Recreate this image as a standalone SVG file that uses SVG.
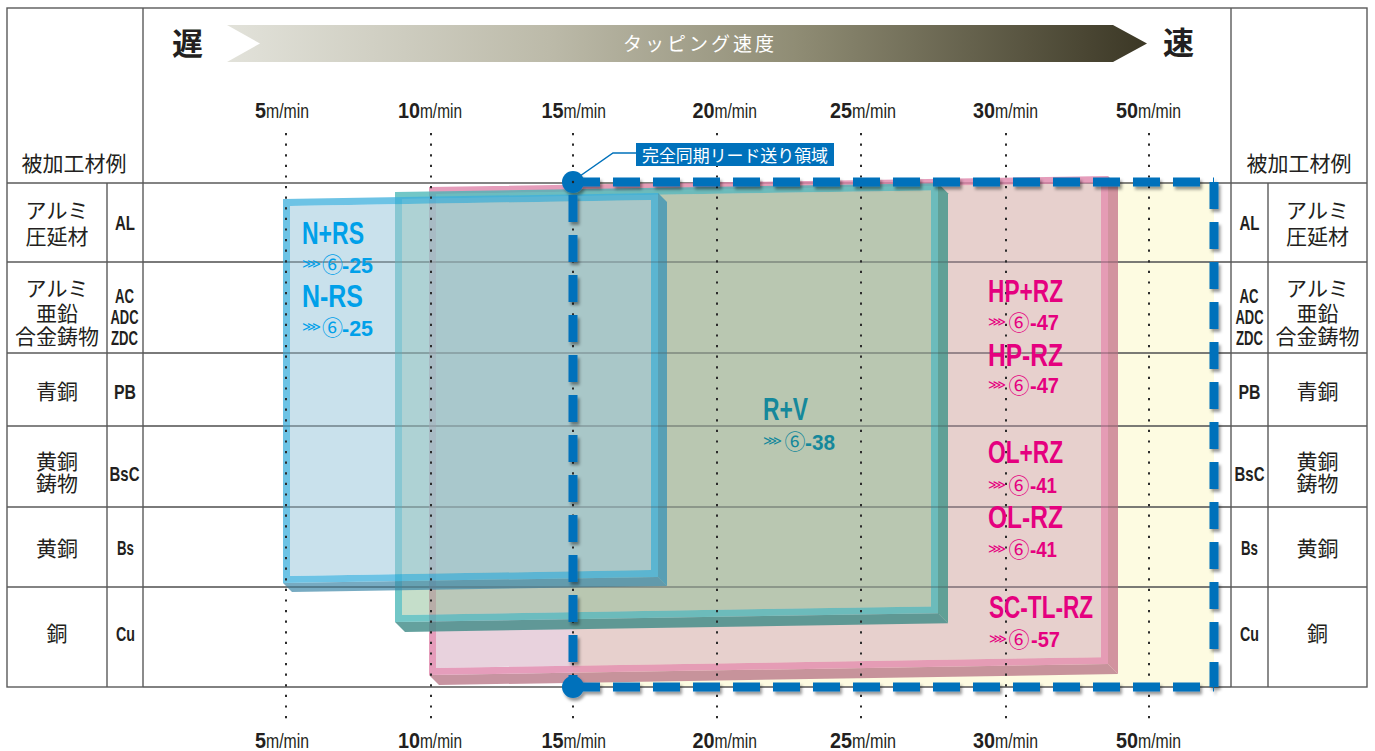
<svg xmlns="http://www.w3.org/2000/svg" width="1375" height="751" viewBox="0 0 1375 751">
<style>
.ln{stroke:#5a5a5a;stroke-width:1.4;fill:none}
.lo{stroke:#5a5a5a;stroke-width:1.2;stroke-opacity:0.4;fill:none}
.dot{stroke:#2b2b2b;stroke-width:2;stroke-dasharray:2.2 8.4;fill:none}
.dash{stroke:#0071bb;stroke-width:9;stroke-dasharray:27 13;fill:none}
.jp{font-family:"Noto Sans CJK JP",sans-serif;font-size:21px;fill:#231f20;text-anchor:middle}
.cd{font-family:"Liberation Sans",Arial,sans-serif;font-weight:bold;font-size:21px;fill:#231f20}
.sd{font-family:"Liberation Sans",Arial,sans-serif;font-weight:bold;font-size:22px;fill:#231f20}
.su{font-family:"Liberation Sans",Arial,sans-serif;font-size:21px;fill:#231f20}
.nm{font-family:"Liberation Sans",Arial,sans-serif;font-weight:bold;font-size:31px}
.num{font-family:"Liberation Sans",Arial,sans-serif;font-weight:bold;font-size:22px}
.chev{font-family:"DejaVu Sans",sans-serif;font-size:13px}
.circ{font-family:"Noto Sans CJK JP",sans-serif;font-size:21px;text-anchor:middle}
.cy{fill:#00a0e9}.tl{fill:#15889b}.mg{fill:#e5007f}
</style>
<defs>
<linearGradient id="gr" gradientUnits="userSpaceOnUse" x1="227" y1="0" x2="1147" y2="0">
<stop offset="0" stop-color="#e2e2da"/>
<stop offset="0.35" stop-color="#bcbaa9"/>
<stop offset="0.62" stop-color="#8f8c74"/>
<stop offset="1" stop-color="#3b3725"/>
</linearGradient>
<filter id="sh" x="-5%" y="-5%" width="112%" height="112%">
<feDropShadow dx="2" dy="3" stdDeviation="1.8" flood-color="#000" flood-opacity="0.4"/>
</filter>
</defs>
<rect width="1375" height="751" fill="#fff"/>

<g id="speed-arrow">
<polygon points="227,25 1113,25 1147,43.5 1113,62 227,62 260,43.5" fill="url(#gr)"/>
<text x="700" y="51" font-family="'Noto Sans CJK JP',sans-serif" font-size="19" fill="#fff" text-anchor="middle" letter-spacing="3">タッピング速度</text>
<text x="187.5" y="55" font-family="'Noto Sans CJK JP',sans-serif" font-size="31" font-weight="bold" fill="#231f20" text-anchor="middle">遅</text>
<text x="1178.5" y="54" font-family="'Noto Sans CJK JP',sans-serif" font-size="31" font-weight="bold" fill="#231f20" text-anchor="middle">速</text>
</g>

<rect id="sync-area-fill" x="573" y="182" width="641" height="505" fill="#fdfbe1"/>

<g id="table">
<rect x="7" y="8" width="1360" height="679" class="ln"/>
<line x1="7" y1="183" x2="1367" y2="183" class="ln"/>
<line x1="7" y1="262" x2="1367" y2="262" class="ln"/>
<line x1="7" y1="353" x2="1367" y2="353" class="ln"/>
<line x1="7" y1="426" x2="1367" y2="426" class="ln"/>
<line x1="7" y1="507" x2="1367" y2="507" class="ln"/>
<line x1="7" y1="587" x2="1367" y2="587" class="ln"/>
<line x1="107" y1="183" x2="107" y2="687" class="ln"/>
<line x1="143" y1="8" x2="143" y2="687" class="ln"/>
<line x1="1231" y1="8" x2="1231" y2="687" class="ln"/>
<line x1="1268" y1="183" x2="1268" y2="687" class="ln"/>
</g>

<g id="node-rz">
<polygon points="429,675 1108,664.1 1118,674.1 439,685" fill="#b9798a" fill-opacity="0.8"/>
<polygon points="1108,176.1 1118,186.1 1118,674.1 1108,664.1" fill="#c7798f" fill-opacity="0.8"/>
<path d="M429,187 L1108,176.1 L1108,664.1 L429,675 Z M436,193.9 L1101,183.2 L1101,657.2 L436,668 Z" fill="#de84aa" fill-opacity="0.8" fill-rule="evenodd"/>
<polygon points="436,193.9 1101,183.2 1101,657.2 436,668" fill="#cfa1b8" fill-opacity="0.48"/>
</g>

<g id="node-rv">
<polygon points="395,622 938,613.3 948,623.3 405,632" fill="#3d8a86" fill-opacity="0.8"/>
<polygon points="938,183.3 948,193.3 948,623.3 938,613.3" fill="#3f9488" fill-opacity="0.8"/>
<path d="M395,192 L938,183.3 L938,613.3 L395,622 Z M402,198.9 L931,190.4 L931,606.4 L402,614.9 Z" fill="#43b4b4" fill-opacity="0.75" fill-rule="evenodd"/>
<polygon points="402,198.9 931,190.4 931,606.4 402,614.9" fill="#8cbe96" fill-opacity="0.5"/>
</g>

<g id="node-rs">
<polygon points="283,583 658,577 667,586 292,592" fill="#3d87a8" fill-opacity="0.7"/>
<polygon points="658,193 667,202 667,586 658,577" fill="#2f8fb5" fill-opacity="0.7"/>
<path d="M283,199 L658,193 L658,577 L283,583 Z M290,206 L651,200 L651,570 L290,576 Z" fill="#3cafdc" fill-opacity="0.75" fill-rule="evenodd"/>
<polygon points="290,206 651,200 651,570 290,576" fill="#9bc7dc" fill-opacity="0.54"/>
</g>

<g id="table-overlay">
<line x1="143" y1="262" x2="1231" y2="262" class="lo"/>
<line x1="143" y1="353" x2="1231" y2="353" class="lo"/>
<line x1="143" y1="426" x2="1231" y2="426" class="lo"/>
<line x1="143" y1="507" x2="1231" y2="507" class="lo"/>
<line x1="143" y1="587" x2="1231" y2="587" class="lo"/>
<line x1="143" y1="687" x2="1231" y2="687" class="lo"/>
</g>

<g id="grid-dots">
<line x1="286" y1="133" x2="286" y2="722" class="dot"/>
<line x1="431" y1="133" x2="431" y2="722" class="dot"/>
<line x1="573" y1="133" x2="573" y2="722" class="dot"/>
<line x1="717" y1="133" x2="717" y2="722" class="dot"/>
<line x1="861" y1="133" x2="861" y2="722" class="dot"/>
<line x1="1006" y1="133" x2="1006" y2="722" class="dot"/>
<line x1="1149" y1="133" x2="1149" y2="722" class="dot"/>
</g>

<g id="speed-labels-top">
<text class="sd" x="255" y="118" textLength="11" lengthAdjust="spacingAndGlyphs">5</text><text class="su" x="266" y="118" textLength="43" lengthAdjust="spacingAndGlyphs">m/min</text>
<text class="sd" x="398" y="118" textLength="22" lengthAdjust="spacingAndGlyphs">10</text><text class="su" x="420" y="118" textLength="42" lengthAdjust="spacingAndGlyphs">m/min</text>
<text class="sd" x="541.5" y="118" textLength="22" lengthAdjust="spacingAndGlyphs">15</text><text class="su" x="563.5" y="118" textLength="42.5" lengthAdjust="spacingAndGlyphs">m/min</text>
<text class="sd" x="692.5" y="118" textLength="22" lengthAdjust="spacingAndGlyphs">20</text><text class="su" x="714.5" y="118" textLength="42.5" lengthAdjust="spacingAndGlyphs">m/min</text>
<text class="sd" x="830" y="118" textLength="22" lengthAdjust="spacingAndGlyphs">25</text><text class="su" x="852" y="118" textLength="44" lengthAdjust="spacingAndGlyphs">m/min</text>
<text class="sd" x="973" y="118" textLength="22" lengthAdjust="spacingAndGlyphs">30</text><text class="su" x="995" y="118" textLength="43" lengthAdjust="spacingAndGlyphs">m/min</text>
<text class="sd" x="1116" y="118" textLength="22" lengthAdjust="spacingAndGlyphs">50</text><text class="su" x="1138" y="118" textLength="43" lengthAdjust="spacingAndGlyphs">m/min</text>
</g>
<g id="speed-labels-bottom">
<text class="sd" x="255" y="748" textLength="11" lengthAdjust="spacingAndGlyphs">5</text><text class="su" x="266" y="748" textLength="43" lengthAdjust="spacingAndGlyphs">m/min</text>
<text class="sd" x="398" y="748" textLength="22" lengthAdjust="spacingAndGlyphs">10</text><text class="su" x="420" y="748" textLength="42" lengthAdjust="spacingAndGlyphs">m/min</text>
<text class="sd" x="541.5" y="748" textLength="22" lengthAdjust="spacingAndGlyphs">15</text><text class="su" x="563.5" y="748" textLength="42.5" lengthAdjust="spacingAndGlyphs">m/min</text>
<text class="sd" x="692.5" y="748" textLength="22" lengthAdjust="spacingAndGlyphs">20</text><text class="su" x="714.5" y="748" textLength="42.5" lengthAdjust="spacingAndGlyphs">m/min</text>
<text class="sd" x="830" y="748" textLength="22" lengthAdjust="spacingAndGlyphs">25</text><text class="su" x="852" y="748" textLength="44" lengthAdjust="spacingAndGlyphs">m/min</text>
<text class="sd" x="973" y="748" textLength="22" lengthAdjust="spacingAndGlyphs">30</text><text class="su" x="995" y="748" textLength="43" lengthAdjust="spacingAndGlyphs">m/min</text>
<text class="sd" x="1116" y="748" textLength="22" lengthAdjust="spacingAndGlyphs">50</text><text class="su" x="1138" y="748" textLength="43" lengthAdjust="spacingAndGlyphs">m/min</text>
</g>

<g id="sync-area" filter="url(#sh)">
<line x1="573" y1="182" x2="1214" y2="182" class="dash"/>
<line x1="573" y1="687" x2="1214" y2="687" class="dash"/>
<line x1="573" y1="182" x2="573" y2="687" class="dash" stroke-dashoffset="27"/>
<line x1="1214" y1="182" x2="1214" y2="687" class="dash"/>
<circle cx="573" cy="182" r="11" fill="#0071bb"/>
<circle cx="573" cy="687" r="11" fill="#0071bb"/>
</g>
<circle cx="573" cy="182" r="1.2" fill="#222"/>

<g id="connectors">
<polyline points="580,176 613,153 636,153" fill="none" stroke="#0071bb" stroke-width="1.5"/>
</g>
<g id="callout">
<rect x="636" y="143" width="198" height="23" fill="#0071bb"/>
<text x="642" y="161.5" font-family="'Noto Sans CJK JP',sans-serif" font-size="17" fill="#fff" textLength="186" lengthAdjust="spacingAndGlyphs">完全同期リード送り領域</text>
</g>

<g id="label-rs">
<text class="nm cy" x="302" y="244" textLength="62" lengthAdjust="spacingAndGlyphs">N+RS</text>
<text class="chev cy" x="302" y="268" textLength="19" lengthAdjust="spacingAndGlyphs">⋙</text>
<text class="circ cy" x="332.5" y="272">⑥</text>
<text class="num cy" x="342" y="273" textLength="31" lengthAdjust="spacingAndGlyphs">-25</text>
<text class="nm cy" x="302" y="307" textLength="61" lengthAdjust="spacingAndGlyphs">N-RS</text>
<text class="chev cy" x="302" y="331" textLength="19" lengthAdjust="spacingAndGlyphs">⋙</text>
<text class="circ cy" x="332.5" y="335">⑥</text>
<text class="num cy" x="342" y="336" textLength="31" lengthAdjust="spacingAndGlyphs">-25</text>
</g>

<g id="label-rv">
<text class="nm tl" x="763" y="420" textLength="45" lengthAdjust="spacingAndGlyphs">R+V</text>
<text class="chev tl" x="763" y="445" textLength="19" lengthAdjust="spacingAndGlyphs">⋙</text>
<text class="circ tl" x="795" y="449">⑥</text>
<text class="num tl" x="805" y="450" textLength="30" lengthAdjust="spacingAndGlyphs">-38</text>
</g>

<g id="label-rz">
<text class="nm mg" x="988" y="302" textLength="75" lengthAdjust="spacingAndGlyphs">HP+RZ</text>
<text class="chev mg" x="988" y="326" textLength="18" lengthAdjust="spacingAndGlyphs">⋙</text>
<text class="circ mg" x="1019" y="330">⑥</text>
<text class="num mg" x="1030" y="330" textLength="29" lengthAdjust="spacingAndGlyphs">-47</text>
<text class="nm mg" x="988" y="366" textLength="75" lengthAdjust="spacingAndGlyphs">HP-RZ</text>
<text class="chev mg" x="988" y="389" textLength="18" lengthAdjust="spacingAndGlyphs">⋙</text>
<text class="circ mg" x="1019" y="393">⑥</text>
<text class="num mg" x="1030" y="393" textLength="29" lengthAdjust="spacingAndGlyphs">-47</text>
<text class="nm mg" x="988" y="463" textLength="75" lengthAdjust="spacingAndGlyphs">OL+RZ</text>
<text class="chev mg" x="988" y="489" textLength="18" lengthAdjust="spacingAndGlyphs">⋙</text>
<text class="circ mg" x="1019" y="493">⑥</text>
<text class="num mg" x="1030" y="493" textLength="27" lengthAdjust="spacingAndGlyphs">-41</text>
<text class="nm mg" x="988" y="528" textLength="75" lengthAdjust="spacingAndGlyphs">OL-RZ</text>
<text class="chev mg" x="988" y="553" textLength="18" lengthAdjust="spacingAndGlyphs">⋙</text>
<text class="circ mg" x="1019" y="557">⑥</text>
<text class="num mg" x="1030" y="557" textLength="27" lengthAdjust="spacingAndGlyphs">-41</text>
<text class="nm mg" x="989" y="618" textLength="104" lengthAdjust="spacingAndGlyphs">SC-TL-RZ</text>
<text class="chev mg" x="989" y="643" textLength="18" lengthAdjust="spacingAndGlyphs">⋙</text>
<text class="circ mg" x="1019" y="647">⑥</text>
<text class="num mg" x="1031" y="647" textLength="29" lengthAdjust="spacingAndGlyphs">-57</text>
</g>

<g id="materials-left">
<text class="jp" x="74" y="170.5">被加工材例</text>
<text class="jp" x="57" y="217.5">アルミ</text><text class="jp" x="57" y="244">圧延材</text>
<text class="cd" x="115" y="230" textLength="20" lengthAdjust="spacingAndGlyphs">AL</text>
<text class="jp" x="57" y="295.5">アルミ</text><text class="jp" x="57" y="320.5">亜鉛</text><text class="jp" x="57" y="344">合金鋳物</text>
<text class="cd" x="115" y="303" textLength="19" lengthAdjust="spacingAndGlyphs">AC</text>
<text class="cd" x="110.5" y="324" textLength="28" lengthAdjust="spacingAndGlyphs">ADC</text>
<text class="cd" x="111" y="345" textLength="27" lengthAdjust="spacingAndGlyphs">ZDC</text>
<text class="jp" x="57" y="399">青銅</text>
<text class="cd" x="114" y="399" textLength="22" lengthAdjust="spacingAndGlyphs">PB</text>
<text class="jp" x="57" y="469">黄銅</text><text class="jp" x="57" y="490.5">鋳物</text>
<text class="cd" x="109.5" y="481" textLength="30" lengthAdjust="spacingAndGlyphs">BsC</text>
<text class="jp" x="57" y="555.5">黄銅</text>
<text class="cd" x="117" y="555" textLength="17" lengthAdjust="spacingAndGlyphs">Bs</text>
<text class="jp" x="57" y="641">銅</text>
<text class="cd" x="116" y="641" textLength="19" lengthAdjust="spacingAndGlyphs">Cu</text>
</g>

<g id="materials-right">
<text class="jp" x="1299" y="170.5">被加工材例</text>
<text class="jp" x="1317.5" y="217.5">アルミ</text><text class="jp" x="1317.5" y="244">圧延材</text>
<text class="cd" x="1239.5" y="230" textLength="20" lengthAdjust="spacingAndGlyphs">AL</text>
<text class="jp" x="1317.5" y="295.5">アルミ</text><text class="jp" x="1317.5" y="320.5">亜鉛</text><text class="jp" x="1317.5" y="344">合金鋳物</text>
<text class="cd" x="1239.5" y="303" textLength="19" lengthAdjust="spacingAndGlyphs">AC</text>
<text class="cd" x="1235.5" y="324" textLength="28" lengthAdjust="spacingAndGlyphs">ADC</text>
<text class="cd" x="1236" y="345" textLength="27" lengthAdjust="spacingAndGlyphs">ZDC</text>
<text class="jp" x="1317.5" y="399">青銅</text>
<text class="cd" x="1238.5" y="399" textLength="22" lengthAdjust="spacingAndGlyphs">PB</text>
<text class="jp" x="1317.5" y="469">黄銅</text><text class="jp" x="1317.5" y="490.5">鋳物</text>
<text class="cd" x="1234.5" y="481" textLength="30" lengthAdjust="spacingAndGlyphs">BsC</text>
<text class="jp" x="1317.5" y="555.5">黄銅</text>
<text class="cd" x="1241" y="555" textLength="17" lengthAdjust="spacingAndGlyphs">Bs</text>
<text class="jp" x="1317.5" y="641">銅</text>
<text class="cd" x="1240" y="641" textLength="19" lengthAdjust="spacingAndGlyphs">Cu</text>
</g>
</svg>
